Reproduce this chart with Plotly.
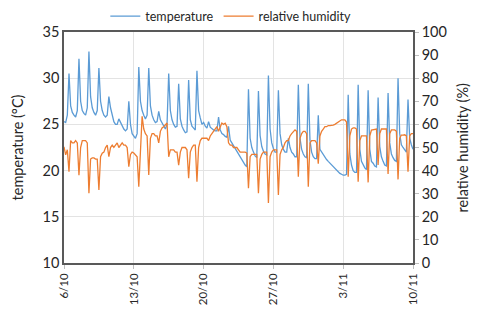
import datetime as dt
import plotly.graph_objects as go

# ---------------- data ----------------
start_date = dt.datetime(2020, 10, 6)
sample_hours = [0, 4, 8, 12, 16, 20]          # readings per day

# temperature (degC), 6 readings per day, one row per day
temp_week1 = [
    25.3, 25.2, 26.0, 30.5, 27.0, 26.3,
    26.0, 25.8, 26.5, 32.1, 27.5, 26.5,
    26.2, 26.0, 26.8, 32.9, 28.0, 26.8,
    26.3, 26.0, 26.5, 31.1, 27.5, 26.5,
    26.0, 25.8, 26.0, 28.0, 26.8, 26.0,
    25.3, 25.0, 25.0, 25.6, 25.2, 24.8,
    24.5, 24.3, 24.5, 27.5, 25.0, 24.0,
]
temp_week2 = [
    23.8, 23.5, 24.0, 31.2, 27.5, 26.5,
    26.0, 25.6, 26.0, 31.1, 27.0, 26.0,
    25.5, 25.2, 25.3, 26.4, 25.5, 25.2,
    24.8, 24.5, 25.0, 30.5, 26.5, 25.5,
    25.0, 24.7, 24.8, 29.4, 25.6, 24.8,
    24.4, 24.1, 24.2, 29.8, 25.5, 24.8,
    24.6, 24.4, 30.8, 26.5, 25.7, 25.0,
]
temp_week3 = [
    25.2, 24.8, 24.6, 25.3, 24.7, 24.5,
    24.4, 24.3, 24.3, 25.8, 24.4, 24.0,
    23.9, 23.7, 23.6, 24.8, 23.3, 23.0,
    22.7, 22.4, 22.1, 21.8, 21.4, 21.1,
    20.8, 20.6, 20.4, 28.8, 23.5, 22.5,
    22.0, 21.6, 21.4, 28.6, 23.8, 22.6,
    22.1, 21.8, 21.7, 30.3, 24.5, 23.0,
]
temp_week4 = [
    22.4, 22.0, 22.0, 28.7, 24.0, 22.8,
    22.3, 22.0, 22.0, 23.5, 22.5, 22.0,
    21.8, 21.5, 21.5, 29.3, 23.5, 22.3,
    21.8, 21.5, 21.4, 29.4, 23.3, 22.0,
    21.5, 21.3, 21.3, 26.0, 22.3, 22.0,
    21.8, 21.5, 21.2, 21.0, 20.8, 20.6,
    20.4, 20.2, 20.0, 19.9, 19.7, 19.6,
]
temp_week5 = [
    19.5, 19.5, 19.6, 28.2, 21.8, 20.6,
    20.0, 19.8, 19.8, 29.3, 22.3, 21.0,
    20.6, 20.3, 20.1, 28.7, 22.3, 21.0,
    20.8, 20.5, 20.4, 27.9, 22.6, 21.5,
    21.0, 20.6, 20.5, 28.4, 23.0, 21.8,
    21.4, 21.1, 21.0, 30.0, 24.0, 22.8,
    22.5, 22.2, 22.0, 27.7, 23.5, 22.8,
]
temp_final = [22.3]

# relative humidity (%), 6 readings per day
rh_week1 = [
    50.3, 46.8, 49.0, 39.5, 53.0, 52.0,
    52.0, 53.0, 52.0, 38.0, 50.0, 53.0,
    53.0, 53.0, 52.0, 30.2, 45.0, 45.5,
    45.5, 45.0, 45.0, 31.6, 46.0, 47.5,
    48.0, 50.0, 51.0, 46.0, 50.0, 51.0,
    50.0, 51.0, 52.0, 50.0, 51.0, 52.0,
    51.0, 51.0, 50.0, 41.7, 47.0, 48.0,
]
rh_week2 = [
    47.6, 47.0, 46.0, 33.0, 50.0, 63.5,
    58.0, 56.0, 55.0, 38.1, 54.0, 56.0,
    56.0, 55.0, 55.0, 52.0, 57.0, 58.5,
    59.0, 60.0, 60.6, 46.0, 49.0, 49.0,
    49.0, 48.0, 48.0, 42.4, 48.0, 50.0,
    50.0, 50.0, 49.0, 36.7, 48.0, 50.0,
    51.0, 51.0, 35.2, 50.0, 53.0, 54.0,
]
rh_week3 = [
    54.0, 54.0, 54.0, 53.0, 55.0, 56.0,
    57.0, 58.0, 59.0, 57.0, 59.0, 60.6,
    60.0, 60.5, 59.0, 52.0, 51.0, 51.0,
    50.0, 50.0, 50.0, 49.0, 48.0, 48.0,
    48.0, 48.0, 47.6, 32.4, 46.0, 47.0,
    47.0, 47.0, 47.0, 30.2, 45.0, 47.0,
    48.0, 48.0, 48.0, 26.0, 46.0, 48.0,
]
rh_week4 = [
    49.0, 49.0, 49.0, 29.4, 47.0, 49.0,
    50.0, 52.0, 53.0, 53.0, 55.0, 56.0,
    57.0, 57.6, 57.0, 37.4, 54.0, 56.0,
    57.0, 57.0, 56.0, 33.0, 52.0, 53.0,
    53.0, 53.0, 52.0, 43.0, 55.0, 57.0,
    58.0, 59.0, 59.0, 59.5, 59.5, 59.5,
    59.7, 60.0, 60.5, 61.0, 61.5, 62.0,
]
rh_week5 = [
    62.0, 62.0, 61.0, 37.4, 55.0, 58.0,
    58.5, 58.5, 58.0, 35.2, 53.0, 55.0,
    55.0, 55.0, 55.0, 34.9, 55.0, 57.5,
    57.6, 58.0, 58.0, 42.4, 56.0, 58.0,
    58.0, 58.0, 58.0, 38.5, 56.0, 57.6,
    57.6, 57.6, 57.0, 36.2, 54.0, 55.4,
    55.4, 55.5, 55.0, 39.5, 55.0, 56.0,
]
rh_final = [56.0]

tick_labels = ["6/10", "13/10", "20/10", "27/10", "3/11", "10/11"]
tick_dates = [start_date + dt.timedelta(days=7 * i) for i in range(len(tick_labels))]

# ---------------- assemble ----------------
temperature = temp_week1 + temp_week2 + temp_week3 + temp_week4 + temp_week5 + temp_final
humidity = rh_week1 + rh_week2 + rh_week3 + rh_week4 + rh_week5 + rh_final

n_days = (len(temperature) - 1) // len(sample_hours)
times = [start_date + dt.timedelta(days=d, hours=h) for d in range(n_days) for h in sample_hours]
times.append(start_date + dt.timedelta(days=n_days))

BLUE = "#5B9BD5"
ORANGE = "#ED7D31"
FONT = "Lato, 'Open Sans', sans-serif"
TXT = "#262626"
AX = "#595959"

fig = go.Figure()
fig.add_trace(go.Scatter(x=times, y=temperature, mode="lines", name="temperature",
                         line=dict(color=BLUE, width=1.3)))
fig.add_trace(go.Scatter(x=times, y=humidity, mode="lines", name="relative humidity",
                         yaxis="y2", line=dict(color=ORANGE, width=1.3)))

fig.update_layout(
    width=480, height=313,
    margin=dict(l=64, r=67, t=32, b=50, autoexpand=False),
    paper_bgcolor="white", plot_bgcolor="white",
    font=dict(family=FONT, color=TXT, size=14),
    showlegend=True,
    legend=dict(orientation="h", x=0.478, xanchor="center", y=0.995, yanchor="top",
                yref="container", font=dict(size=12.5, color=TXT),
                itemwidth=30, bgcolor="rgba(0,0,0,0)"),
    xaxis=dict(
        type="date", automargin=False,
        range=[tick_dates[0], tick_dates[-1]],
        tickmode="array", tickvals=tick_dates, ticktext=tick_labels,
        tickangle=-90, tickfont=dict(size=11.5, color=TXT),
        showgrid=True, gridcolor="#E3E3E3", gridwidth=1,
        showline=True, linecolor=AX, linewidth=1.5, mirror=True,
        ticks="outside", ticklen=4, tickcolor="#BFBFBF",
        zeroline=False,
    ),
    yaxis=dict(
        range=[10, 35], dtick=5, tick0=10, automargin=False,
        tickfont=dict(size=14.5, color=TXT),
        showgrid=True, gridcolor="#E3E3E3", gridwidth=1,
        showline=True, linecolor=AX, linewidth=1.5, mirror=True,
        ticks="", zeroline=False,
    ),
    yaxis2=dict(
        range=[0, 100], dtick=10, tick0=0, automargin=False,
        overlaying="y", side="right",
        tickfont=dict(size=14.5, color=TXT),
        showgrid=False, showline=True, linecolor=AX, linewidth=1.5,
        ticks="outside", ticklen=4, tickcolor="#BFBFBF", zeroline=False,
    ),
    annotations=[
        dict(text="temperature (°C)", xref="paper", yref="paper",
             x=-0.132, y=0.5, textangle=-90, showarrow=False,
             xanchor="center", yanchor="middle", font=dict(size=14.5, color=TXT)),
        dict(text="relative humidity (%)", xref="paper", yref="paper",
             x=1.143, y=0.5, textangle=-90, showarrow=False,
             xanchor="center", yanchor="middle", font=dict(size=14.5, color=TXT)),
    ],
)

fig.write_html("out.html",
               config={"displayModeBar": False},
               post_script="document.body.style.margin='0';document.body.style.padding='0';")
